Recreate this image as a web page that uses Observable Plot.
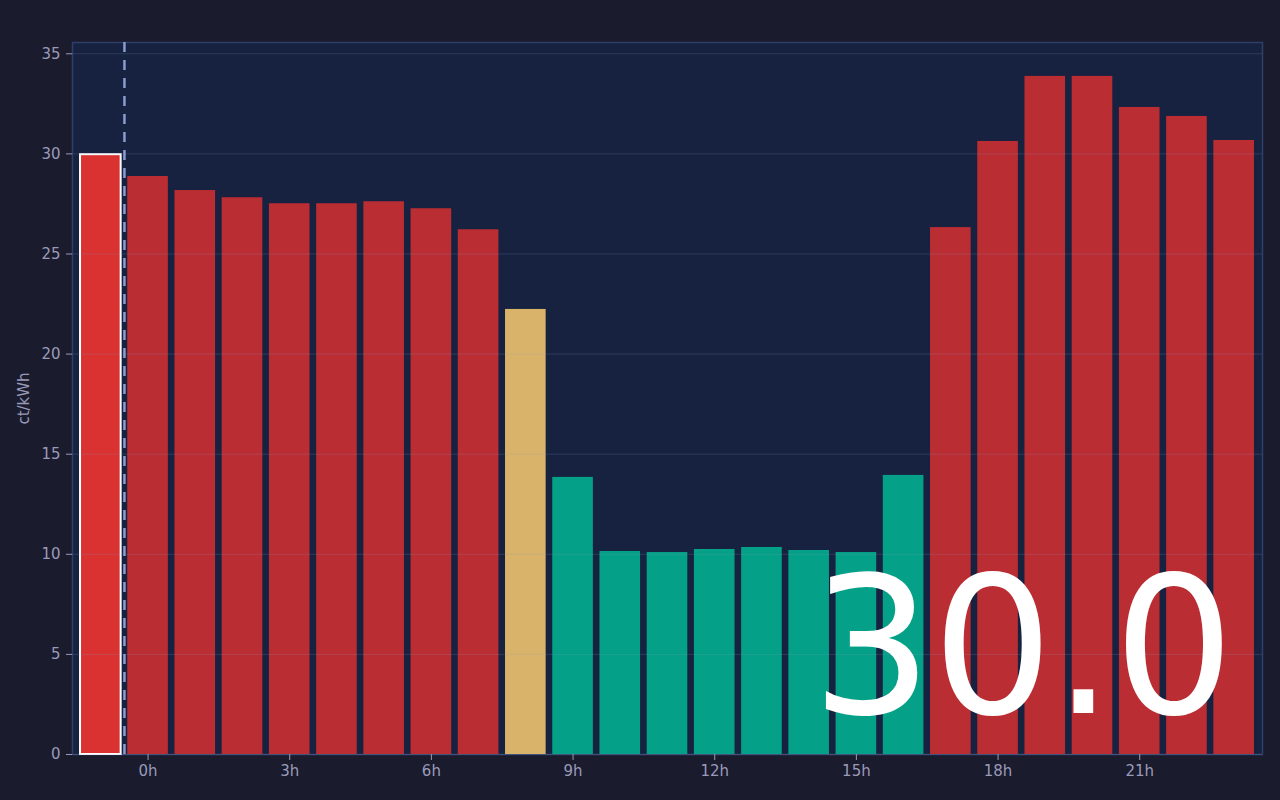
<!DOCTYPE html>
<html>
<head>
<meta charset="utf-8">
<script src="https://cdn.jsdelivr.net/npm/d3@7"></script>
<script src="https://cdn.jsdelivr.net/npm/@observablehq/plot@0.6"></script>
<style>
  html, body { margin: 0; padding: 0; background: #1b1b2e; }
  #chart { width: 1280px; height: 800px; }
</style>
</head>
<body>
<div id="chart"></div>
<script>
// Hours (the first bar is the previous day's last hour, shown as -1)
const hours = [-1, 0, 1, 2, 3, 4, 5, 6, 7, 8, 9, 10, 11, 12, 13, 14, 15, 16, 17, 18, 19, 20, 21, 22, 23];
// Price in ct/kWh
const prices = [29.96, 28.87, 28.17, 27.81, 27.51, 27.51, 27.61, 27.26, 26.21, 22.23, 13.84, 10.14, 10.09, 10.24, 10.34, 10.19, 10.09, 13.94, 26.32, 30.62, 33.87, 33.87, 32.32, 31.87, 30.67];
// Price level per hour
const levels = ["high","high","high","high","high","high","high","high","high","mid","low","low","low","low","low","low","low","low","high","high","high","high","high","high","high"];
// Current hour (highlighted) and "now" marker
const currentHour = -1;
const nowMarker = [-0.5];
// Axis ticks
const xTicks = [0, 3, 6, 9, 12, 15, 18, 21];
const yTicks = [0, 5, 10, 15, 20, 25, 30, 35];

const levelColor = {high: "#b92d33", mid: "#d9b36a", low: "#04a087"};

const data = hours.map((h, i) => ({hour: h, price: prices[i], level: levels[i]}));
const currentRow = data.filter(d => d.hour === currentHour);
const otherRows = data.filter(d => d.hour !== currentHour);
const yMax = d3.max(prices) * 1.05;

const chart = Plot.plot({
  width: 1280,
  height: 800,
  marginLeft: 72,
  marginRight: 18,
  marginTop: 42,
  marginBottom: 46,
  style: {
    background: "#1b1b2e",
    color: "#9a9ab8",
    fontFamily: "DejaVu Sans",
    fontSize: "15px"
  },
  x: {domain: [-1.6, 23.6]},
  y: {domain: [0, yMax]},
  marks: [
    Plot.frame({fill: "#172240", stroke: "#2f4068", strokeWidth: 1.5}),
    Plot.rectY(otherRows, {
      x1: d => d.hour - 0.5,
      x2: d => d.hour + 0.5,
      y: "price",
      fill: d => levelColor[d.level],
      insetLeft: 3.3,
      insetRight: 3.3
    }),
    Plot.rectY(currentRow, {
      x1: d => d.hour - 0.5,
      x2: d => d.hour + 0.5,
      y: "price",
      fill: "#d93231",
      stroke: "white",
      strokeWidth: 2,
      insetLeft: 3.3,
      insetRight: 3.3
    }),
    Plot.gridY(yTicks, {stroke: "#8a9ac8", strokeOpacity: 0.2, strokeWidth: 1}),
    Plot.ruleX(nowMarker, {stroke: "#8b9bd0", strokeWidth: 2.5, strokeDasharray: "10,8"}),
    Plot.axisX(xTicks, {tickFormat: d => d + "h", tickSize: 6, tickPadding: 5, label: null}),
    Plot.axisY(yTicks, {tickSize: 6, tickPadding: 6, label: "ct/kWh", labelAnchor: "center", labelOffset: 54, labelArrow: false}),
    Plot.text(currentRow, {
      text: d => d.price.toFixed(1),
      frameAnchor: "bottom-right",
      textAnchor: "end",
      lineAnchor: "bottom",
      dx: -28,
      dy: -42,
      fontSize: 190,
      fill: "white",
      fontFamily: "DejaVu Sans"
    })
  ]
});
document.getElementById("chart").appendChild(chart);
</script>
</body>
</html>
